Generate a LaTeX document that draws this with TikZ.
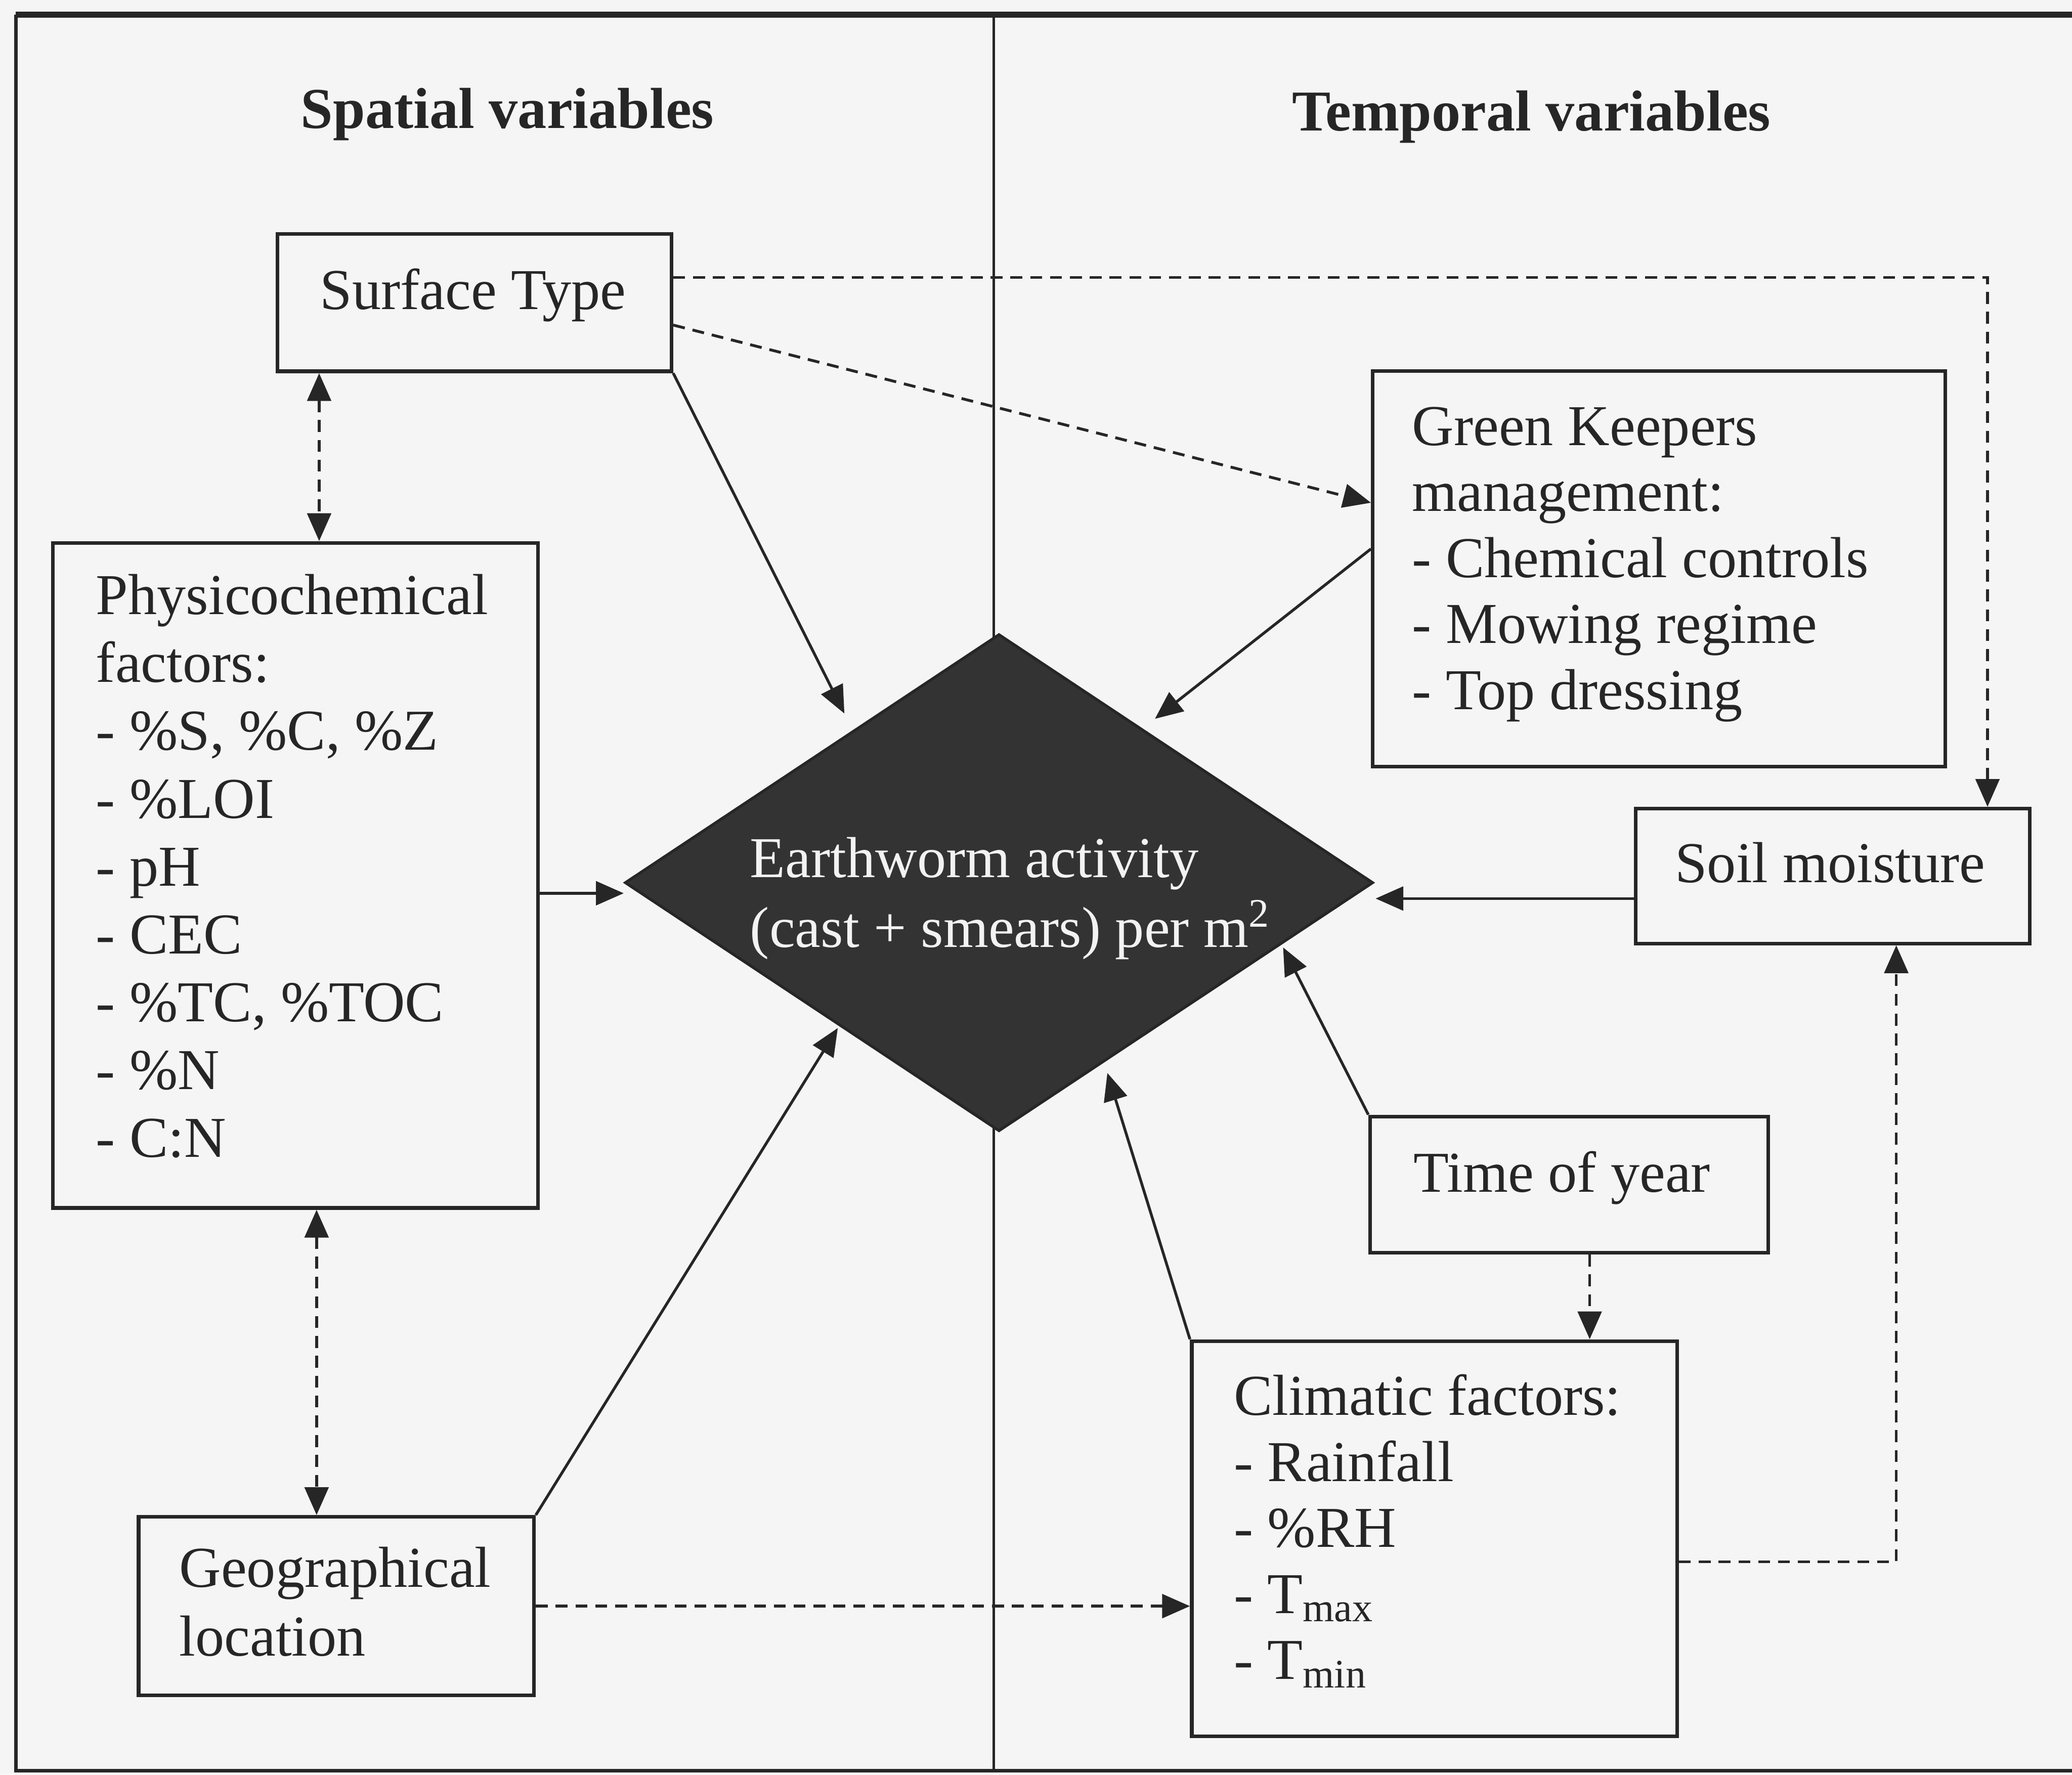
\documentclass[tikz,border=0pt]{standalone}
\usepackage{fontspec}
\setmainfont{Liberation Serif}
\usetikzlibrary{shapes.geometric,arrows.meta,calc}
\newcommand{\tlines}[2]{\vtop{\baselineskip=#1\lineskiplimit=-20pt\lineskip=0pt #2}}
\begin{document}
\begin{tikzpicture}[x=0.01cm,y=-0.01cm,
  box/.style={draw=black!85, line width=0.8pt, rectangle, inner sep=0pt},
  txt/.style={inner sep=0pt, text=black!85, font=\fontsize{12.45pt}{14.6pt}\selectfont},
  arr/.style={draw=black!85, line width=0.6pt, -{Triangle[length=2.1mm,width=1.8mm]}},
  darr/.style={arr, dash pattern=on 0.9mm off 0.6mm},
  dbl/.style={darr, {Triangle[length=2.1mm,width=1.8mm]}-{Triangle[length=2.1mm,width=1.8mm]}}
]
\useasboundingbox (0,0) rectangle (1568,1343);
\fill[black!4] (0,0) rectangle (1568,1343);
% frame and divider
\draw[black!85, line width=0.7pt] (1568,1340) -- (12,1340) -- (12,11);
\draw[black!85, line width=1.3pt] (12,11) -- (1568,11);
\draw[black!85, line width=0.5pt] (752,11) -- (752,1340);

% headings
\node[txt, anchor=base, font=\fontsize{12.45pt}{14.6pt}\selectfont\bfseries] (hs) at (384,97) {Spatial variables};
\node[txt, anchor=base, font=\fontsize{12.45pt}{14.6pt}\selectfont\bfseries] (ht) at (1159,99) {Temporal variables};

% boxes
\node[box, minimum width=2.98cm, minimum height=1.04cm] (st) at (359,229) {};
\node[box, minimum width=3.67cm, minimum height=5.03cm] (pc) at (223.5,662.5) {};
\node[box, minimum width=2.99cm, minimum height=1.35cm] (geo) at (254.5,1215.5) {};
\node[box, minimum width=4.33cm, minimum height=2.99cm] (gk) at (1255.5,430.5) {};
\node[box, minimum width=2.98cm, minimum height=1.02cm] (sm) at (1387,663) {};
\node[box, minimum width=3.01cm, minimum height=1.03cm] (ty) at (1187.5,896.5) {};
\node[box, minimum width=3.67cm, minimum height=2.99cm] (cf) at (1085.5,1164.5) {};
\node[diamond, fill=black!80, draw=black!85, line width=0.6pt, minimum width=5.66cm, minimum height=3.76cm, inner sep=0pt] (ew) at (756,668) {};

% texts
\node[txt, anchor=base] (tst) at (358,234) {Surface Type};
\node[txt, anchor=base west] (tpc) at (72,465) {\tlines{14.6pt}{\hbox{Physicochemical}\hbox{factors:}\hbox{- \%S, \%C, \%Z}\hbox{- \%LOI}\hbox{- pH}\hbox{- CEC}\hbox{- \%TC, \%TOC}\hbox{- \%N}\hbox{- C:N}}};
\node[txt, anchor=base west] (tgeo) at (135,1201) {\tlines{14.8pt}{\hbox{Geographical}\hbox{location}}};
\node[txt, anchor=base west, text=white!95!black] (tew) at (567,664) {\tlines{15pt}{\hbox{Earthworm activity}\hbox{(cast + smears) per m\textsuperscript{2}}}};
\node[txt, anchor=base west] (tgk) at (1068,337) {\tlines{14.2pt}{\hbox{Green Keepers}\hbox{management:}\hbox{- Chemical controls}\hbox{- Mowing regime}\hbox{- Top dressing}}};
\node[txt, anchor=base] (tsm) at (1385,668) {Soil moisture};
\node[txt, anchor=base] (tty) at (1182,902) {Time of year};
\node[txt, anchor=base west] (tcf) at (933,1071) {\tlines{14.2pt}{\hbox{Climatic factors:}\hbox{- Rainfall}\hbox{- \%RH}\hbox{- T\textsubscript{max}}\hbox{- T\textsubscript{min}}}};

% arrow tip coordinates
\coordinate (t1) at (639,540);
\coordinate (t2) at (874,544);
\coordinate (t3) at (634,778);
\coordinate (t4) at (838,812);
\coordinate (t5) at (971,717);
\coordinate (ewl) at (472,676);
\coordinate (ewr) at (1041,680);

% solid connectors
\draw[arr] (st.south east) -- (t1);
\draw[arr] ($(gk.north west)!0.45!(gk.south west)$) -- (t2);
\draw[arr] (geo.north east) -- (t3);
\draw[arr] (cf.north west) -- (t4);
\draw[arr] (ty.north west) -- (t5);
\draw[arr] (pc.east |- ewl) -- (ewl);
\draw[arr] (sm.west |- ewr) -- (ewr);

% dashed connectors
\draw[dbl] ([xshift=0.33cm]st.south west) -- ([xshift=0.33cm]st.south west |- pc.north);
\draw[dbl] ([xshift=1.36cm]geo.north west |- pc.south) -- ([xshift=1.36cm]geo.north west);
\draw[darr] ([yshift=-0.17cm]st.east) -- ([yshift=0.5cm]gk.west);
\draw[darr] ([yshift=0.19cm]st.east) -| ([xshift=1.17cm]sm.north);
\draw[darr] (geo.east) -- (cf.west |- geo.east);
\draw[darr] ([xshift=0.155cm]ty.south) -- ([xshift=0.155cm]ty.south |- cf.north);
\draw[darr] ([yshift=-0.175cm]cf.east) -| ([xshift=0.48cm]sm.south);
\end{tikzpicture}
\end{document}
